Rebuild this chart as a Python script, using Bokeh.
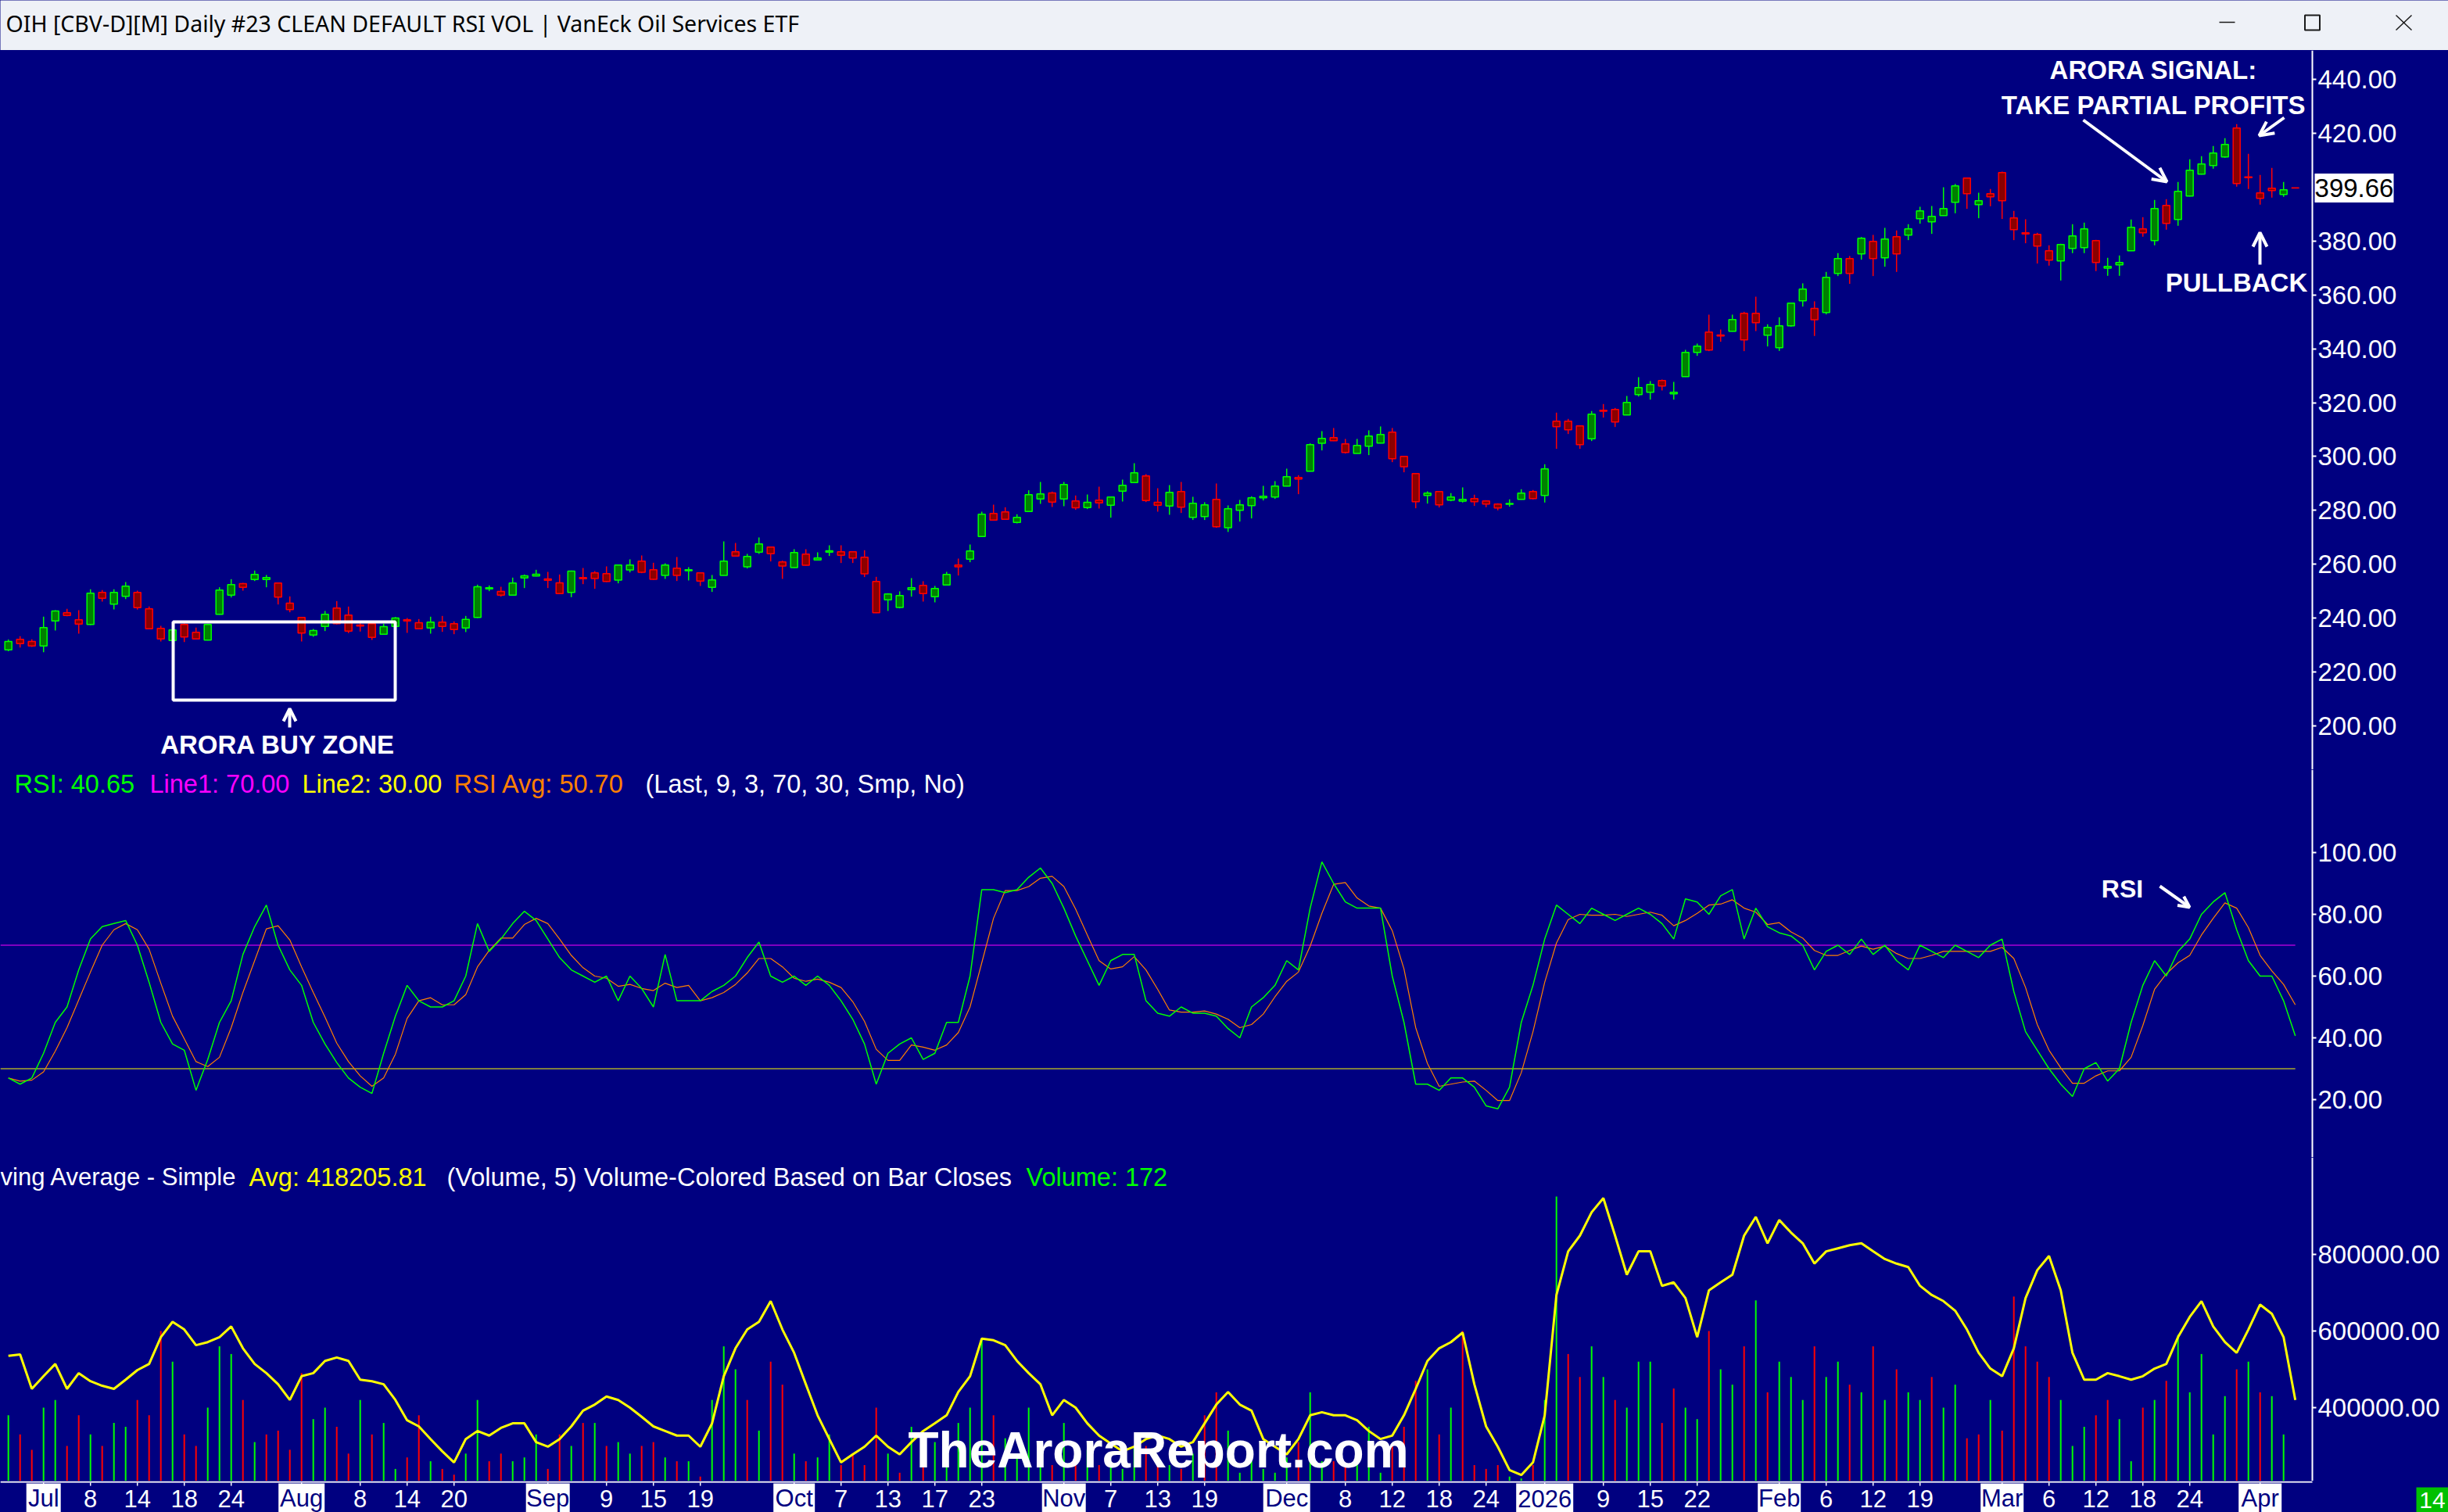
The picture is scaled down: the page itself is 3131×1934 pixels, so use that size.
from bokeh.plotting import figure
from bokeh.layouts import column
from bokeh.models import (Range1d, LinearAxis, FixedTicker, PrintfTickFormatter,
                          ColumnDataSource, Arrow, OpenHead, BoxAnnotation)
from bokeh.core.properties import value
from bokeh.embed import file_html
from bokeh.resources import INLINE

TITLE = "OIH [CBV-D][M]  Daily #23 CLEAN DEFAULT RSI VOL | VanEck Oil Services ETF"

open_ = [228.26, 232.13, 231.35, 229.71, 239.0, 242.0, 239.38, 237.64, 249.54, 245.18,
         248.08, 249.54, 243.44, 236.19, 231.74, 237.64, 234.74, 231.84, 241.41, 248.57,
         252.82, 254.37, 254.37, 253.02, 245.57, 240.25, 233.77, 236.96, 243.73, 241.12,
         237.45, 237.93, 234.06, 236.96, 239.38, 238.32, 236.38, 238.51, 237.93, 236.38,
         240.25, 250.89, 249.92, 248.57, 254.95, 255.63, 254.57, 253.11, 249.54, 255.05,
         256.8, 256.51, 254.1, 257.87, 261.15, 257.96, 255.84, 258.54, 257.58, 256.8,
         251.48, 255.84, 264.64, 259.03, 264.54, 266.38, 260.86, 258.74, 263.77, 261.64,
         264.54, 264.64, 264.64, 262.61, 253.61, 246.84, 243.94, 250.61, 252.16, 248.0,
         252.35, 259.7, 261.93, 270.34, 278.85, 279.43, 275.56, 279.63, 284.27, 286.49,
         284.27, 283.5, 281.08, 283.79, 281.95, 287.17, 290.36, 292.78, 283.01, 281.66,
         286.99, 277.41, 277.7, 284.09, 273.55, 280.03, 281.77, 284.67, 284.96, 289.02,
         292.21, 294.53, 304.88, 307.01, 304.69, 301.11, 303.82, 304.98, 309.04, 300.05,
         293.66, 285.54, 286.99, 283.8, 283.41, 284.38, 283.51, 282.35, 282.25, 284.09,
         286.99, 285.54, 313.1, 313.1, 311.36, 306.62, 317.16, 317.45, 315.42, 322.96,
         323.84, 328.19, 323.26, 329.64, 338.63, 346.18, 345.11, 346.47, 353.14, 353.14,
         345.02, 340.37, 348.5, 357.8, 354.99, 353.45, 367.95, 373.47, 375.21, 379.85,
         373.76, 381.59, 382.17, 388.26, 387.1, 389.42, 394.36, 403.35, 393.49, 397.55,
         405.38, 388.55, 383.04, 382.46, 376.37, 372.6, 377.24, 377.53, 380.14, 369.89,
         371.15, 376.37, 384.49, 380.14, 393.2, 387.97, 396.68, 404.8, 408.0, 411.18,
         421.92, 403.83, 397.84, 399.58, 397.26, 399.76]
high = [232.1, 233.29, 232.13, 240.54, 242.96, 243.44, 242.96, 250.7, 250.41, 250.7,
        253.4, 250.21, 244.31, 237.16, 236.19, 238.13, 236.48, 237.93, 251.47, 254.47,
        253.11, 257.66, 256.02, 253.21, 248.08, 240.44, 236.0, 242.67, 246.34, 244.31,
        238.13, 238.13, 237.93, 240.44, 240.06, 239.67, 240.54, 240.83, 238.8, 240.83,
        252.44, 252.15, 251.66, 255.05, 256.21, 257.95, 257.18, 256.21, 257.66, 258.63,
        257.48, 259.22, 259.9, 261.83, 263.28, 260.57, 260.38, 262.7, 258.93, 257.0,
        256.03, 268.5, 267.92, 263.86, 269.96, 266.57, 261.35, 265.6, 265.6, 264.44,
        267.05, 267.05, 264.73, 265.22, 255.35, 249.26, 249.94, 254.87, 253.71, 251.97,
        257.19, 262.12, 267.34, 279.53, 282.14, 281.17, 278.56, 287.46, 290.56, 286.98,
        290.56, 285.53, 285.91, 288.81, 285.04, 291.43, 297.52, 293.46, 288.23, 289.4,
        290.57, 285.05, 283.03, 289.99, 281.86, 283.9, 285.25, 289.12, 290.86, 295.5,
        293.08, 304.88, 309.43, 310.59, 306.53, 306.53, 309.72, 311.17, 310.59, 300.24,
        293.76, 287.09, 287.09, 286.41, 288.54, 285.83, 283.8, 282.64, 284.09, 287.86,
        287.57, 297.14, 316.29, 313.97, 311.46, 316.87, 319.49, 318.03, 322.48, 329.45,
        328.0, 328.58, 327.71, 339.6, 341.92, 352.66, 347.14, 352.66, 353.72, 359.33,
        349.08, 351.69, 357.1, 364.28, 357.61, 368.53, 375.5, 374.43, 381.49, 382.27,
        384.88, 383.91, 386.23, 392.71, 393.0, 399.97, 401.22, 403.54, 397.93, 399.29,
        405.77, 391.17, 388.07, 383.04, 378.4, 378.98, 386.23, 386.81, 380.43, 373.76,
        374.63, 387.97, 388.84, 395.23, 395.52, 401.9, 410.31, 411.47, 415.25, 418.15,
        423.37, 412.34, 404.51, 407.12, 401.9, 399.8]
low = [227.7, 229.13, 229.32, 227.39, 235.4, 240.7, 234.26, 237.45, 246.15, 243.25,
       247.12, 243.15, 236.09, 231.35, 231.55, 231.16, 232.32, 231.74, 241.3, 247.7,
       250.21, 253.79, 251.47, 245.09, 242.19, 231.35, 233.1, 235.22, 237.64, 234.45,
       235.03, 231.93, 233.96, 236.87, 234.55, 236.0, 234.26, 234.93, 234.06, 234.84,
       240.06, 250.02, 247.99, 248.47, 251.18, 255.53, 251.18, 249.05, 247.8, 252.63,
       250.9, 253.42, 252.93, 257.0, 256.71, 254.19, 254.58, 253.8, 254.0, 251.97,
       249.74, 255.84, 263.09, 258.45, 263.86, 261.06, 254.58, 258.64, 259.51, 261.54,
       263.09, 260.48, 260.48, 255.26, 241.9, 242.68, 243.65, 248.0, 246.16, 245.87,
       252.35, 255.84, 260.77, 270.25, 276.24, 276.63, 275.18, 279.53, 282.43, 281.27,
       281.56, 280.21, 280.5, 280.69, 277.31, 283.3, 290.26, 283.11, 279.53, 278.37,
       279.06, 276.45, 276.45, 273.55, 272.0, 275.87, 277.03, 283.7, 284.28, 288.92,
       286.02, 294.44, 302.27, 305.75, 301.11, 301.11, 300.53, 304.88, 297.92, 294.15,
       280.8, 282.54, 281.09, 283.41, 282.93, 281.67, 281.19, 280.03, 281.38, 283.99,
       284.09, 282.93, 302.85, 308.36, 302.85, 305.75, 314.45, 310.97, 315.33, 322.29,
       321.13, 324.51, 321.13, 329.54, 337.38, 339.12, 342.6, 346.37, 339.12, 346.56,
       340.86, 339.21, 348.21, 355.67, 344.74, 352.77, 366.99, 364.09, 373.08, 366.99,
       370.47, 368.53, 380.33, 386.43, 382.65, 389.33, 390.3, 391.94, 388.46, 392.91,
       388.17, 380.33, 379.17, 371.63, 370.86, 365.34, 375.5, 375.5, 368.82, 367.08,
       367.08, 376.27, 381.59, 378.4, 384.2, 385.65, 396.58, 404.7, 406.83, 410.89,
       400.16, 399.29, 393.49, 396.1, 396.39, 399.6]
close = [231.35, 230.58, 229.71, 236.48, 242.67, 241.02, 237.83, 249.25, 247.41, 249.54,
         251.86, 243.93, 236.09, 232.32, 235.61, 233.0, 232.32, 237.64, 250.41, 252.44,
         251.47, 256.21, 255.05, 247.8, 243.15, 234.45, 235.42, 241.41, 237.93, 235.22,
         237.06, 232.9, 236.87, 240.06, 239.0, 236.09, 238.51, 236.96, 235.8, 239.58,
         251.66, 251.28, 248.57, 253.02, 255.72, 256.31, 254.08, 249.15, 257.47, 254.66,
         254.68, 253.61, 259.7, 259.7, 257.0, 254.39, 259.7, 255.84, 257.96, 253.8,
         254.19, 261.15, 263.09, 262.9, 267.54, 263.96, 259.32, 264.35, 259.61, 262.32,
         265.02, 263.38, 262.32, 256.42, 242.0, 248.97, 248.39, 251.29, 249.16, 251.0,
         256.22, 259.03, 264.93, 278.56, 276.44, 276.73, 277.4, 285.82, 286.11, 283.11,
         289.59, 280.98, 283.01, 282.82, 284.95, 289.3, 293.94, 283.69, 281.95, 286.69,
         281.18, 282.64, 282.06, 273.93, 280.6, 282.06, 284.67, 285.25, 289.02, 292.5,
         291.63, 304.4, 306.72, 305.85, 301.49, 304.11, 307.59, 308.17, 299.17, 296.18,
         283.22, 286.41, 282.06, 284.96, 284.09, 283.22, 282.35, 280.9, 282.54, 286.41,
         284.38, 295.4, 311.07, 309.91, 304.4, 315.71, 316.78, 312.81, 320.07, 325.58,
         326.74, 326.16, 323.84, 338.63, 340.95, 339.5, 344.73, 350.82, 343.27, 349.66,
         347.92, 348.5, 356.91, 362.15, 350.74, 366.5, 373.47, 367.95, 381.01, 373.47,
         380.72, 375.21, 384.49, 391.17, 389.13, 392.04, 400.45, 397.55, 394.94, 396.39,
         394.94, 384.2, 382.65, 378.11, 372.89, 378.69, 381.88, 384.49, 372.02, 370.57,
         372.02, 385.07, 383.04, 392.04, 386.52, 398.42, 406.25, 408.57, 412.64, 415.83,
         401.32, 403.54, 395.81, 398.71, 399.0, 399.66]
rsi = [27, 25, 27, 35, 45, 50, 62, 72, 76, 77,
       78, 70, 58, 45, 38, 36, 23, 33, 45, 52,
       67, 76, 83, 70, 62, 57, 45, 38, 32, 27,
       24, 22, 35, 47, 57, 52, 50, 50, 52, 60,
       77, 68, 72, 77, 81, 78, 72, 66, 62, 60,
       58, 60, 52, 60, 56, 50, 67, 52, 52, 52,
       55, 57, 60, 66, 71, 60, 58, 60, 57, 60,
       57, 52, 46, 38, 25, 35, 38, 40, 33, 35,
       45, 45, 60, 88, 88, 87, 88, 92, 95, 90,
       82, 73, 65, 57, 65, 67, 67, 52, 48, 47,
       50, 48, 48, 47, 43, 40, 50, 53, 57, 65,
       62, 82, 97, 90, 84, 82, 82, 82, 60, 45,
       25, 25, 23, 27, 27, 24, 18, 17, 24, 45,
       57, 72, 83, 80, 77, 82, 80, 78, 80, 82,
       80, 77, 72, 85, 84, 80, 86, 88, 72, 82,
       76, 74, 73, 70, 62, 68, 70, 67, 72, 67,
       70, 65, 62, 70, 68, 66, 70, 68, 66, 70,
       72, 55, 42, 36, 30, 25, 21, 30, 32, 26,
       30, 45, 57, 65, 60, 68, 72, 80, 84, 87,
       75, 65, 60, 60, 52, 40.65]
rsi_avg = [27, 26, 26.3, 29, 35.7, 43.3, 52.3, 61.3, 70, 75,
           77, 75, 68.7, 57.7, 47, 39.7, 32.3, 30.7, 33.7, 43.3,
           54.7, 65, 75.3, 76.3, 71.7, 63, 54.7, 46.7, 38.3, 32.3,
           27.7, 24.3, 27, 34.7, 46.3, 52, 53, 50.7, 50.7, 54,
           63, 68.3, 72.3, 72.3, 76.7, 78.7, 77, 72, 66.7, 62.7,
           60, 59.3, 56.7, 57.3, 56, 55.3, 57.7, 56.3, 57, 52,
           53, 54.7, 57.3, 61, 65.7, 65.7, 63, 59.3, 58.3, 59,
           58, 56.3, 51.7, 45.3, 36.3, 32.7, 32.7, 37.7, 37, 36,
           37.7, 41.7, 50, 64.3, 78.7, 87.7, 87.7, 89, 91.7, 92.3,
           89, 81.7, 73.3, 65, 62.3, 63, 66.3, 62, 55.7, 49,
           48.3, 48.3, 48.7, 47.7, 46, 43.3, 44.3, 47.7, 53.3, 58.3,
           61.3, 69.7, 80.3, 89.7, 90.3, 85.3, 82.7, 82, 74.7, 62.3,
           43.3, 31.7, 24.3, 25, 25.7, 26, 23, 19.7, 19.7, 28.7,
           42, 58, 70.7, 78.3, 80, 79.7, 79.7, 80, 79.3, 80,
           80.7, 79.7, 76.3, 78, 80.3, 83, 83.3, 84.7, 82, 80.7,
           76.7, 77.3, 74.3, 72.3, 68.3, 66.7, 66.7, 68.3, 69.7, 68.7,
           69.7, 67.3, 65.7, 65.7, 66.7, 68, 68, 68, 68, 68,
           69.3, 65.7, 56.3, 44.3, 36, 30.3, 25.3, 25.3, 27.7, 29.3,
           29.3, 33.7, 44, 55.7, 60.7, 64.3, 66.7, 73.3, 78.7, 83.7,
           82, 75.7, 66.7, 61.7, 57.3, 50.7]
volume = [380000, 330000, 290000, 400000, 420000, 300000, 380000, 330000, 300000, 360000,
          350000, 420000, 380000, 600000, 520000, 330000, 300000, 400000, 560000, 540000,
          420000, 310000, 330000, 340000, 290000, 490000, 370000, 400000, 350000, 280000,
          420000, 330000, 360000, 240000, 270000, 380000, 260000, 240000, 225000, 280000,
          420000, 260000, 280000, 260000, 270000, 330000, 240000, 330000, 300000, 360000,
          360000, 300000, 310000, 280000, 300000, 310000, 270000, 260000, 260000, 220000,
          420000, 560000, 500000, 420000, 340000, 520000, 460000, 280000, 260000, 270000,
          330000, 250000, 280000, 250000, 400000, 280000, 230000, 350000, 270000, 310000,
          340000, 360000, 400000, 580000, 380000, 320000, 270000, 400000, 300000, 250000,
          360000, 260000, 290000, 250000, 260000, 240000, 300000, 300000, 260000, 250000,
          240000, 280000, 380000, 440000, 340000, 230000, 260000, 240000, 230000, 270000,
          310000, 440000, 260000, 260000, 250000, 270000, 350000, 230000, 300000, 350000,
          470000, 500000, 330000, 400000, 600000, 250000, 240000, 250000, 220000, 215000,
          250000, 420000, 951000, 540000, 480000, 560000, 480000, 420000, 400000, 520000,
          520000, 360000, 450000, 400000, 370000, 600000, 500000, 460000, 560000, 680000,
          440000, 520000, 480000, 420000, 560000, 480000, 520000, 460000, 440000, 560000,
          420000, 500000, 440000, 420000, 480000, 400000, 460000, 320000, 330000, 420000,
          340000, 690000, 560000, 520000, 480000, 420000, 300000, 350000, 380000, 420000,
          370000, 260000, 400000, 420000, 470000, 590000, 440000, 540000, 330000, 430000,
          500000, 520000, 440000, 430000, 330000, 172]
vol_ma = [535000, 539000, 449000, 482000, 514000, 449000, 490000, 469000, 457000, 449000,
          473000, 498000, 514000, 584000, 624000, 604000, 563000, 571000, 584000, 612000,
          555000, 514000, 490000, 461000, 420000, 482000, 490000, 522000, 531000, 522000,
          473000, 469000, 461000, 420000, 367000, 351000, 318000, 286000, 257000, 318000,
          339000, 327000, 347000, 359000, 359000, 310000, 298000, 318000, 351000, 392000,
          408000, 429000, 420000, 400000, 376000, 351000, 339000, 327000, 327000, 298000,
          359000, 482000, 555000, 604000, 624000, 678000, 604000, 543000, 461000, 380000,
          318000, 257000, 278000, 298000, 327000, 298000, 278000, 310000, 339000, 359000,
          380000, 441000, 482000, 580000, 576000, 563000, 522000, 490000, 461000, 380000,
          420000, 400000, 359000, 327000, 306000, 286000, 298000, 318000, 327000, 318000,
          298000, 310000, 359000, 408000, 441000, 408000, 392000, 318000, 298000, 278000,
          318000, 380000, 388000, 380000, 380000, 367000, 339000, 318000, 327000, 380000,
          449000, 522000, 555000, 571000, 596000, 461000, 351000, 298000, 237000, 224000,
          257000, 380000, 694000, 808000, 849000, 910000, 947000, 849000, 747000, 808000,
          808000, 718000, 727000, 686000, 584000, 706000, 727000, 747000, 849000, 898000,
          829000, 890000, 857000, 829000, 776000, 808000, 816000, 824000, 829000, 808000,
          788000, 776000, 767000, 718000, 694000, 678000, 653000, 604000, 543000, 502000,
          482000, 555000, 686000, 759000, 796000, 706000, 543000, 473000, 473000, 490000,
          482000, 473000, 482000, 502000, 514000, 584000, 637000, 678000, 612000, 571000,
          543000, 604000, 669000, 645000, 584000, 420000]

LINE1 = 70.0
LINE2 = 30.0
LAST_PRICE = 399.66
RSI_AVG_LAST = 50.70
VOL_AVG_LAST = 418205.81

tick_bars = [3, 7, 11, 15, 19, 25, 30, 34, 38, 46, 51, 55, 59, 67, 71, 75, 79, 83, 90, 94, 98, 102,
             109, 114, 118, 122, 126, 131, 136, 140, 144, 151, 155, 159, 163, 170, 174, 178, 182, 186, 192]
tick_labels = ["Jul", "8", "14", "18", "24", "Aug", "8", "14", "20", "Sep", "9", "15", "19",
               "Oct", "7", "13", "17", "23", "Nov", "7", "13", "19", "Dec", "8", "12", "18", "24",
               "2026", "9", "15", "22", "Feb", "6", "12", "19", "Mar", "6", "12", "18", "24", "Apr"]
MONTH_BOX_W = {"Jul": 44, "Aug": 59, "Sep": 56, "Oct": 53, "Nov": 56, "Dec": 60, "2026": 73,
               "Feb": 55, "Mar": 55, "Apr": 55}

# ---------------- layout constants ----------------
NAVY = "#000080"
PAGE_W = 3131
FRAME_W = 2957
BAR0 = 10.2
STEP = 15.0
SANS = "Liberation Sans"


def bx(px):
    return (px - BAR0) / STEP


def yp(px):
    return 440 - (px - 101) / 3.446


def yr(px):
    return 100 - (px - 1090) / 3.95


def yv(px):
    return 400000 - (px - 1800) * 2041.0


XR = Range1d(bx(0), bx(PAGE_W))
AXIS_X = bx(FRAME_W)
n = len(close)
idx = list(range(n))


def panel(top_px, bot_px, fy):
    p = figure(width=PAGE_W, height=bot_px - top_px, x_range=XR,
               y_range=Range1d(fy(bot_px), fy(top_px)),
               x_axis_location=None, y_axis_location=None,
               output_backend="svg", toolbar_location=None, min_border=0,
               background_fill_color=NAVY, border_fill_color=NAVY, outline_line_color=None)
    p.xgrid.visible = False
    p.ygrid.visible = False
    return p


def right_axis(p, ticks):
    ax = LinearAxis(ticker=FixedTicker(ticks=ticks), formatter=PrintfTickFormatter(format="%.2f"),
                    fixed_location=AXIS_X,
                    axis_line_color="white", axis_line_width=2,
                    major_tick_line_color="white", major_tick_line_width=2,
                    major_tick_in=0, major_tick_out=5, minor_tick_line_color=None,
                    major_label_text_color="white", major_label_text_font=SANS,
                    major_label_text_font_size="33px", major_label_standoff=2)
    p.add_layout(ax, "right")


def txt(p, x, y, s, color="white", size="32.5px", font=SANS, style="normal", align="left"):
    p.text(x=[x], y=[y], text=[s], text_color=color, text_font=value(font),
           text_font_size=size, text_font_style=style, text_align=align, text_baseline="middle")


def arrow(p, xs, ys, xe, ye, size=18):
    p.add_layout(Arrow(end=OpenHead(size=size, line_color="white", line_width=4),
                       x_start=xs, y_start=ys, x_end=xe, y_end=ye,
                       line_color="white", line_width=4))


# ---------------- title bar ----------------
TB = "#eef1f7"
pt = figure(width=PAGE_W, height=64, x_range=Range1d(0, PAGE_W), y_range=Range1d(0, 64),
            x_axis_location=None, y_axis_location=None, output_backend="svg", toolbar_location=None,
            min_border=0, background_fill_color=TB, border_fill_color=TB, outline_line_color=None)
pt.xgrid.visible = False
pt.ygrid.visible = False
pt.text(x=[7], y=[35], text=[TITLE], text_color="black", text_font=value("Noto Sans"),
        text_font_size="28.5px", text_baseline="middle")
pt.segment(x0=[2838], y0=[36], x1=[2858], y1=[36], line_color="#1a1a1a", line_width=1.5)
pt.rect(x=[2957], y=[35.5], width=[19], height=[19], fill_color=None, line_color="#1a1a1a", line_width=2)
pt.segment(x0=[3064, 3064], y0=[45, 26], x1=[3084, 3084], y1=[26, 45], line_color="#1a1a1a", line_width=1.5)

# ---------------- price panel ----------------
pp = panel(64, 984, yp)
up = [c >= o for o, c in zip(open_, close)]
src = ColumnDataSource(dict(
    x=idx, o=open_, h=high, l=low, c=close,
    top=[max(o, c) for o, c in zip(open_, close)],
    bot=[min(o, c) for o, c in zip(open_, close)],
    fill=["#008000" if u else "#8b0000" for u in up],
    line=["#00ff00" if u else "#ff0000" for u in up]))
pp.segment(x0="x", y0="l", x1="x", y1="h", line_color="line", line_width=1.5, source=src)
pp.vbar(x="x", width=0.6, top="top", bottom="bot", fill_color="fill", line_color="line",
        line_width=1.5, source=src)
right_axis(pp, [200, 220, 240, 260, 280, 300, 320, 340, 360, 380, 420, 440])
pp.rect(x=[bx(3010.5)], y=[LAST_PRICE], width=[101], height=[37], width_units="screen",
        height_units="screen", fill_color="white", line_color=None)
pp.text(x=[bx(3010.5)], y=[LAST_PRICE], text=["%.2f" % LAST_PRICE], text_color="black",
        text_font=value(SANS), text_font_size="33px", text_align="center", text_baseline="middle")

pp.add_layout(BoxAnnotation(left=bx(221), right=bx(505), top=yp(795), bottom=yp(895),
                            fill_color=None, fill_alpha=0, line_color="white", line_alpha=1,
                            line_width=4))
arrow(pp, bx(370), yp(930), bx(370), yp(906), size=16)
txt(pp, bx(355), yp(952), "ARORA BUY ZONE", size="33px", style="bold", align="center")
txt(pp, bx(2754), yp(89), "ARORA SIGNAL:", size="33px", style="bold", align="center")
txt(pp, bx(2754), yp(134), "TAKE PARTIAL PROFITS", size="33px", style="bold", align="center")
arrow(pp, bx(2664), yp(153), bx(2771), yp(232))
arrow(pp, bx(2921), yp(150), bx(2889), yp(173))
txt(pp, bx(2860), yp(361), "PULLBACK", size="33px", style="bold", align="center")
arrow(pp, bx(2890), yp(338), bx(2890), yp(297))

# ---------------- RSI panel ----------------
pr = panel(984, 1480, yr)
pr.segment(x0=[XR.start], y0=[LINE1], x1=[idx[-1]], y1=[LINE1], line_color="#ff00ff", line_width=1)
pr.segment(x0=[XR.start], y0=[LINE2], x1=[idx[-1]], y1=[LINE2], line_color="#ffff00", line_width=1)
pr.line(idx, rsi_avg, line_color="#ff8000", line_width=1.2)
pr.line(idx, rsi, line_color="#00ff00", line_width=1.5)
right_axis(pr, [20, 40, 60, 80, 100])
ly = yr(1002)
txt(pr, bx(18), ly, "RSI: %.2f" % rsi[-1], color="#00ff00")
txt(pr, bx(191), ly, "Line1: %.2f" % LINE1, color="#ff00ff")
txt(pr, bx(386), ly, "Line2: %.2f" % LINE2, color="#ffff00")
txt(pr, bx(580), ly, "RSI Avg: %.2f" % RSI_AVG_LAST, color="#ff8000")
txt(pr, bx(825), ly, "(Last, 9, 3, 70, 30, Smp, No)")
txt(pr, bx(2714), yr(1136), "RSI", size="32px", style="bold", align="center")
arrow(pr, bx(2762), yr(1133), bx(2800), yr(1160), size=14)

# ---------------- volume panel ----------------
pv = panel(1480, 1894, yv)
vcol = ["#00ff00"] + ["#00ff00" if close[i] >= close[i - 1] else "#ff0000" for i in range(1, n)]
vsrc = ColumnDataSource(dict(x=idx, v=volume, c=vcol, b=[pv.y_range.start] * n))
pv.segment(x0="x", y0="b", x1="x", y1="v", line_color="c", line_width=2, source=vsrc)
pv.line(idx, vol_ma, line_color="#ffff00", line_width=3)
right_axis(pv, [400000, 600000, 800000])
vy = yv(1505)
txt(pv, bx(0), vy, "ving Average - Simple", size="31px")
txt(pv, bx(318), vy, "Avg: %.2f" % VOL_AVG_LAST, color="#ffff00")
txt(pv, bx(571), vy, "(Volume, 5)  Volume-Colored Based on Bar Closes")
txt(pv, bx(1312), vy, "Volume: %d" % volume[-1], color="#00ff00")
txt(pv, bx(1481), yv(1854), "TheAroraReport.com", size="64px", style="bold", align="center")

# ---------------- date strip ----------------
ps = figure(width=PAGE_W, height=40, x_range=XR, y_range=Range1d(0, 40),
            x_axis_location=None, y_axis_location=None, output_backend="svg", toolbar_location=None,
            min_border=0, background_fill_color=NAVY, border_fill_color=NAVY, outline_line_color=None)
ps.xgrid.visible = False
ps.ygrid.visible = False
ps.segment(x0=[XR.start], y0=[39], x1=[AXIS_X], y1=[39], line_color="white", line_width=2)
ps.segment(x0=tick_bars, y0=[38] * len(tick_bars), x1=tick_bars, y1=[34] * len(tick_bars),
           line_color="white", line_width=1.5)
mb = [b for b, t in zip(tick_bars, tick_labels) if t in MONTH_BOX_W]
mw = [MONTH_BOX_W[t] for t in tick_labels if t in MONTH_BOX_W]
ps.rect(x=mb, y=[18.5] * len(mb), width=mw, height=[37] * len(mb), width_units="screen",
        height_units="screen", fill_color="white", line_color=None)
ps.text(x=tick_bars, y=[18] * len(tick_bars), text=tick_labels,
        text_color=[NAVY if t in MONTH_BOX_W else "white" for t in tick_labels],
        text_font=value(SANS), text_font_size="31px", text_align="center", text_baseline="middle")
ps.rect(x=[bx(3110.5)], y=[16], width=[41], height=[32], width_units="screen", height_units="screen",
        fill_color="#00c000", line_color=None)
ps.text(x=[bx(3110.5)], y=[16], text=["14"], text_color="white", text_font=value(SANS),
        text_font_size="30px", text_align="center", text_baseline="middle")

layout = column(pt, pp, pr, pv, ps, spacing=0)
html = file_html(layout, INLINE, title="OIH")
html = html.replace("<head>", "<head><style>html,body{margin:0;padding:0;background:#000080;}</style>", 1)
open("out.html", "w").write(html)
